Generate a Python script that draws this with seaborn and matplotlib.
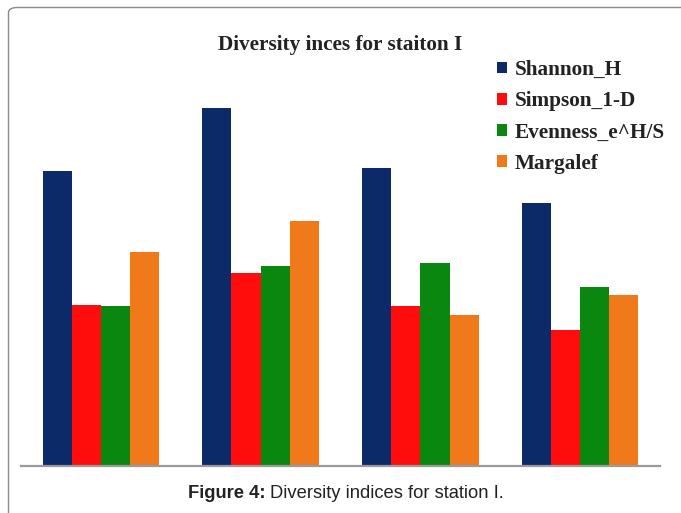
import matplotlib
matplotlib.use("Agg")
import matplotlib.pyplot as plt
from matplotlib.patches import FancyBboxPatch
import pandas as pd
import seaborn as sns

# Diversity indices for the four sampling sites of station I
sites = ["Site 1", "Site 2", "Site 3", "Site 4"]
indices = ["Shannon_H", "Simpson_1-D", "Evenness_e^H/S", "Margalef"]
shannon_h = [2.95, 3.58, 2.98, 2.63]
simpson_1d = [1.61, 1.93, 1.60, 1.36]
evenness = [1.60, 2.00, 2.03, 1.79]
margalef = [2.14, 2.45, 1.51, 1.71]
colors = ["#0d2a68", "#ff0d0d", "#0a870f", "#f07a1a"]

df = pd.DataFrame({
    "site": sites * 4,
    "index": [name for name in indices for _ in sites],
    "value": shannon_h + simpson_1d + evenness + margalef,
})

sns.set_theme(style="white")
fig = plt.figure(figsize=(6.81, 5.13), dpi=100)
ax = fig.add_axes([21 / 681, 47 / 513, 639 / 681, 400 / 513])

sns.barplot(data=df, x="site", y="value", hue="index", hue_order=indices,
            palette=colors, width=0.73, saturation=1, linewidth=0,
            errorbar=None, ax=ax)

ax.set_xlim(-0.5, 3.5)
ax.set_ylim(0, 4.0)
ax.set_xlabel("")
ax.set_ylabel("")
ax.set_xticks([])
ax.set_yticks([])
for side in ["top", "right", "left"]:
    ax.spines[side].set_visible(False)
ax.spines["bottom"].set_color("#9a9a9a")
ax.spines["bottom"].set_linewidth(1.6)

sns.move_legend(ax, loc="upper left", frameon=False, title=None,
                prop={"family": "Liberation Serif", "weight": "bold", "size": 15.3},
                handlelength=0.47, handleheight=0.47, handletextpad=0.38,
                labelspacing=0.53, borderaxespad=0, borderpad=0)
leg = ax.get_legend()
leg.set_bbox_to_anchor((497 / 681, 1 - 60 / 513), transform=fig.transFigure)
for txt in leg.get_texts():
    txt.set_color("#222222")

fig.text(340 / 681, 1 - 45 / 513, "Diversity inces for staiton I",
         ha="center", va="center", family="Liberation Serif",
         weight="bold", size=15.3, color="#222222")

# Caption under the chart, centred as one line of bold + regular text
cap_y = 1 - 493 / 513
b = fig.text(0, cap_y, "Figure 4:", ha="left", va="center",
             family="Liberation Sans", weight="bold", size=13.2, color="#222222")
r = fig.text(0, cap_y, "Diversity indices for station I.", ha="left", va="center",
             family="Liberation Sans", size=13.2, color="#222222")
fig.canvas.draw()
wb = b.get_window_extent().width
wr = r.get_window_extent().width
gap = 4
x0 = 346 - (wb + gap + wr) / 2
b.set_x(x0 / 681)
r.set_x((x0 + wb + gap) / 681)

# Rounded frame around the figure panel
frame = FancyBboxPatch((8.5 / 681, -0.2), 1.2, 1 - 7.5 / 513 + 0.2,
                       boxstyle="round,pad=0,rounding_size=0.013",
                       transform=fig.transFigure, fill=False,
                       edgecolor="#8a8a8a", linewidth=1.0, mutation_aspect=513 / 681)
fig.patches.append(frame)

fig.savefig("out.png", dpi=100)
